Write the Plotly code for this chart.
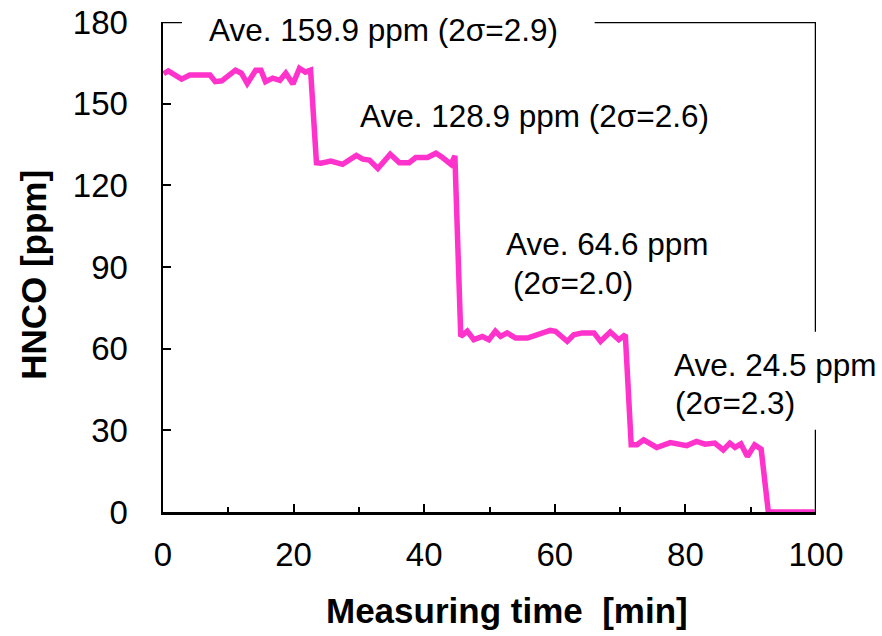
import plotly.graph_objects as go

# Data
time_min = [0.1, 0.8, 2.85, 4.1, 7.2, 8.0, 9.0, 10.2, 11.1, 12.0, 12.9, 14.2, 15.0, 15.7,
            16.8, 17.9, 18.8, 19.9, 20.9, 21.8, 22.6,
            23.5, 24.2, 25.7, 27.5, 29.6, 30.6, 31.6, 32.9, 34.8, 36.2, 37.7, 38.7, 40.5,
            41.8, 42.8, 44.1, 44.7,
            45.6, 46.6, 47.6, 48.9, 49.9, 50.9, 51.7, 52.7, 54.0, 55.8, 57.6, 59.3, 60.1,
            61.9, 62.9, 64.2, 66.0, 67.0, 68.5, 69.8, 70.8,
            71.7, 72.6, 73.6, 75.6, 77.7, 80.2, 81.7, 83.0, 84.5, 85.8, 86.8, 87.6, 88.5,
            89.5, 90.6, 91.6,
            92.7, 99.8]
hnco_ppm = [161.0, 162.0, 159.0, 160.5, 160.5, 158.1, 158.4, 160.8, 162.3, 161.2, 157.4, 162.3,
            162.3, 158.1, 159.4, 158.6, 161.2, 157.2, 163.0, 161.6, 162.3,
            128.3, 128.1, 128.9, 127.7, 131.0, 129.6, 129.3, 126.2, 131.4, 128.3, 128.3,
            130.2, 130.2, 131.8, 130.2, 127.7, 130.8,
            64.5, 66.4, 63.3, 64.5, 63.3, 66.4, 64.5, 65.8, 63.9, 63.9, 65.4, 66.7, 66.4,
            62.7, 65.1, 65.8, 65.8, 62.7, 66.1, 63.3, 65.1,
            24.7, 24.7, 26.5, 23.7, 25.5, 24.4, 25.9, 24.9, 25.3, 22.8, 25.3, 23.7, 25.0,
            20.4, 24.7, 23.1,
            0.0, 0.0]

x_ticks = [0, 20, 40, 60, 80, 100]
y_ticks = [0, 30, 60, 90, 120, 150, 180]

labels = [
    ("Ave. 159.9 ppm (2σ=2.9)", 6.7, 177.0),
    ("Ave. 128.9 ppm (2σ=2.6)", 29.8, 145.5),
    ("Ave. 64.6 ppm", 52.2, 98.6),
    ("(2σ=2.0)", 53.3, 84.0),
    ("Ave. 24.5 ppm", 78.0, 54.0),
    ("(2σ=2.3)", 78.1, 40.0),
]

FONT = "Liberation Sans, Arial, sans-serif"

fig = go.Figure()
fig.add_trace(go.Scatter(
    x=time_min, y=hnco_ppm, mode="lines",
    line=dict(color="#ff33cc", width=5.5),
    cliponaxis=False, showlegend=False,
))

for text, x, y in labels:
    fig.add_annotation(x=x, y=y, xref="x", yref="y", text=text, showarrow=False,
                       xanchor="left", yanchor="middle",
                       font=dict(family=FONT, size=31.5, color="black"))

# axis titles
fig.add_annotation(x=0.527, y=-0.2, xref="paper", yref="paper",
                   text="<b>Measuring time  [min]</b>", showarrow=False,
                   xanchor="center", yanchor="middle",
                   font=dict(family=FONT, size=35, color="black"))
fig.add_annotation(x=-0.1975, y=0.484, xref="paper", yref="paper",
                   text="<b>HNCO [ppm]</b>", showarrow=False, textangle=-90,
                   xanchor="center", yanchor="middle",
                   font=dict(family=FONT, size=35, color="black"))

# partial top/right frame (interrupted by the labels)
frame = dict(type="line", xref="x", yref="y", line=dict(color="black", width=2.5))
fig.add_shape(x0=0, x1=2.9, y0=180, y1=180, **frame)
fig.add_shape(x0=66.1, x1=100, y0=180, y1=180, **frame)
fig.add_shape(x0=100, x1=100, y0=180, y1=66.2, **frame)
fig.add_shape(x0=100, x1=100, y0=30.2, y1=0, **frame)

fig.update_layout(
    width=882, height=636,
    margin=dict(l=163, r=66, t=22, b=124),
    paper_bgcolor="white", plot_bgcolor="white",
    font=dict(family=FONT, color="black"),
)
fig.update_xaxes(
    range=[0, 100], tickvals=x_ticks, ticks="inside", ticklen=8, tickwidth=2,
    tickcolor="black", showline=True, linecolor="black", linewidth=2.5,
    showgrid=False, zeroline=False, tickfont=dict(size=33), ticklabelstandoff=12,
    minor=dict(tickvals=[10, 30, 50, 70, 90], ticks="inside", ticklen=5, tickwidth=2,
               tickcolor="black"),
    layer="below traces", automargin=False, ticklabeloverflow="allow",
)
fig.update_yaxes(
    range=[0, 180], tickvals=y_ticks, ticks="inside", ticklen=8, tickwidth=2,
    tickcolor="black", showline=True, linecolor="black", linewidth=2.5,
    showgrid=False, zeroline=False, tickfont=dict(size=33), ticklabelstandoff=26,
    layer="below traces", automargin=False, ticklabeloverflow="allow",
)

fig.write_html("out.html",
               config={"displayModeBar": False, "staticPlot": True},
               post_script="document.body.style.margin='0';"
                           "document.body.style.overflow='hidden';")
